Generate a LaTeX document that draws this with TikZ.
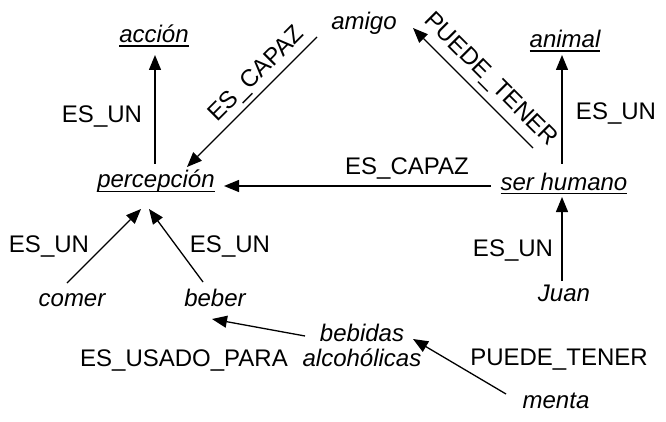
\documentclass[tikz,border=0pt]{standalone}
\usepackage{fontspec}
\setmainfont{Liberation Sans}
\usetikzlibrary{arrows.meta}
\newcommand\ulin[1]{\setbox0=\hbox{#1}\rlap{\rule[-4pt]{\wd0}{1.5pt}}\box0}
\begin{document}
\begin{tikzpicture}[x=1pt,y=-1pt,
  every node/.style={inner sep=0pt, font=\fontsize{24}{25}\selectfont, text=black},
  concept/.style={anchor=base, font=\fontsize{24}{25}\selectfont\itshape},
  rel/.style={anchor=base},
  arr/.style={line width=1.3pt, -{Triangle[length=15pt,width=12pt]}}]
\useasboundingbox (0,0) rectangle (666,422);
% concepts
\node[concept] (acc) at (154,43) {\ulin{acción}};
\node[concept] (amigo) at (364,30) {amigo};
\node[concept] (animal) at (565,48) {\ulin{animal}};
\node[concept] (perc) at (156,188) {\ulin{percepción}};
\node[concept] (serh) at (564,190) {\ulin{ser humano}};
\node[concept] (comer) at (72,306) {comer};
\node[concept] (beber) at (215,306) {beber};
\node[concept] (juan) at (564,301) {Juan};
\node[concept, anchor=center, align=center] (bebidas) at (362,345) {bebidas\\alcohólicas};
\node[concept] (menta) at (556,408) {menta};
% relation labels
\node[rel] (l1) at (102,123) {ES\_UN};
\node[anchor=center, rotate=45] (l2) at (257,75) {ES\_CAPAZ};
\node[anchor=center, rotate=-45] (l3) at (490,80) {PUEDE\_TENER};
\node[rel] (l4) at (616,120) {ES\_UN};
\node[rel] (l5) at (407,175) {ES\_CAPAZ};
\node[rel] (l6) at (49,252) {ES\_UN};
\node[rel] (l7) at (230,252) {ES\_UN};
\node[rel] (l8) at (513,256) {ES\_UN};
\node[rel] (l9) at (184,366) {ES\_USADO\_PARA};
\node[rel] (l10) at (559,365) {PUEDE\_TENER};
% connectors
\draw[arr] ([shift={(-1,-24)}]perc.base) -- ([shift={(1,12)}]acc.base);
\draw[arr] ([shift={(-47,7)}]amigo.base) -- ([shift={(31,-21)}]perc.base);
\draw[arr] ([shift={(-31,-42)}]serh.base) -- ([shift={(49,-2)}]amigo.base);
\draw[arr] ([shift={(-2,-26)}]serh.base) -- ([shift={(-3,7)}]animal.base);
\draw[arr] ([shift={(-73,-4)}]serh.base) -- ([shift={(68,-2)}]perc.base);
\draw[arr] ([shift={(-2,-20)}]juan.base) -- ([shift={(-2,7)}]serh.base);
\draw[arr] ([shift={(-5,-23)}]comer.base) -- ([shift={(-15,21)}]perc.base);
\draw[arr] ([shift={(-12,-24)}]beber.base) -- ([shift={(-7,21)}]perc.base);
\draw[arr] ([shift={(-57,-9)}]bebidas.center) -- ([shift={(-3,13)}]beber.base);
\draw[arr] ([shift={(-50,-14)}]menta.base) -- ([shift={(51,-6)}]bebidas.center);
\end{tikzpicture}
\end{document}
